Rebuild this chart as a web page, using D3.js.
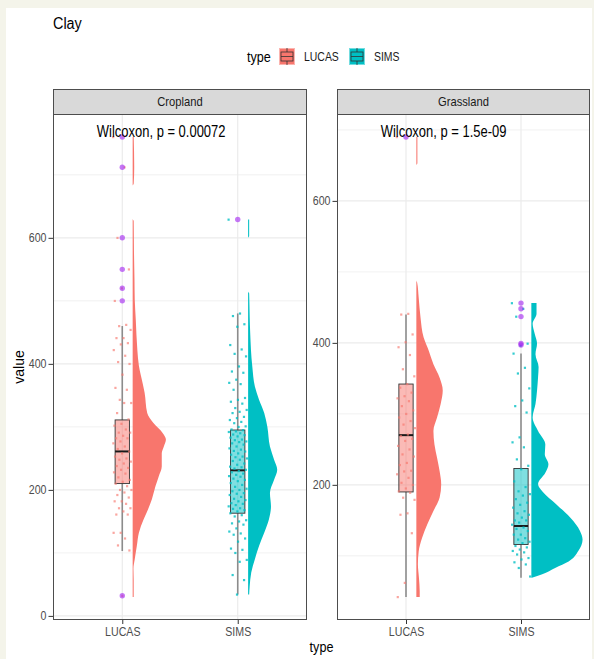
<!DOCTYPE html>
<html>
<head>
<meta charset="utf-8"/>
<script src="https://cdn.jsdelivr.net/npm/d3@7"></script>
<title>Clay</title>
<style>
body { margin: 0; background: #f4f4ea; }
svg { display: block; font-family: "Liberation Sans", Arial, sans-serif; }
</style>
</head>
<body>
<svg width="594" height="659"></svg>
<script>
// categories, facets, labels
var categories = ["LUCAS", "SIMS"];
var facets = ["Cropland", "Grassland"];
var pLabels = ["Wilcoxon, p = 0.00072", "Wilcoxon, p = 1.5e-09"];
var fills = ["#F8766D", "#00BFC4"];
var cropTicks = [0, 200, 400, 600];
var grassTicks = [200, 400, 600];

// box stats: lower whisker, q1, median, q3, upper whisker
var cropLucasBox = [103, 210, 261, 311, 460];
var cropSimsBox = [34, 163, 231, 295, 480];
var grassLucasBox = [42, 190, 270, 342, 440];
var grassSimsBox = [69, 116, 142, 223, 385];

// outliers
var cropLucasOut = [760, 712, 600, 550, 520, 500, 32];
var cropSimsOut = [629];
var grassLucasOut = [690];
var grassSimsOut = [456, 448, 437, 399, 397];

// half violin profiles [value, density]
var cropLucasDens = [[30,0.02],[57,0.02],[75,0.015],[90,0.04],[111,0.08],[132,0.12],[153,0.21],[164,0.27],[185,0.37],[206,0.44],[221,0.50],[237,0.56],[258,0.56],[269,0.60],[280,0.64],[290,0.58],[306,0.40],[322,0.28],[354,0.23],[370,0.19],[397,0.12],[422,0.09],[470,0.06],[502,0.04],[533,0.035],[580,0.025],[627,0.02],[630,0],[683,0],[686,0.02],[712,0.03],[760,0.02]];
var cropSimsDens = [[34,0.02],[47,0.03],[69,0.06],[90,0.13],[111,0.21],[132,0.31],[153,0.40],[174,0.44],[195,0.42],[216,0.50],[232,0.56],[248,0.50],[269,0.42],[300,0.37],[322,0.31],[343,0.21],[364,0.13],[396,0.08],[449,0.04],[475,0.03],[512,0.02],[515,0],[600,0],[603,0.02],[629,0.02]];
var grassLucasDens = [[42,0.065],[50,0.065],[69,0.05],[88,0.03],[106,0.045],[125,0.11],[144,0.21],[163,0.33],[182,0.45],[201,0.48],[219,0.45],[238,0.40],[257,0.35],[276,0.33],[295,0.40],[314,0.47],[333,0.51],[351,0.45],[370,0.33],[389,0.24],[408,0.14],[436,0.08],[464,0.045],[485,0.015],[488,0],[650,0],[653,0.02],[690,0.02]];
var grassSimsDens = [[69,0.01],[74,0.21],[83,0.46],[92,0.72],[107,0.91],[123,0.99],[135,0.94],[154,0.75],[172,0.49],[191,0.21],[201,0.13],[217,0.27],[229,0.33],[243,0.26],[257,0.27],[276,0.13],[295,0.025],[314,0.08],[333,0.11],[352,0.13],[366,0.14],[384,0.08],[399,0.11],[413,0.065],[427,0.025],[441,0.10],[456,0.10]];

// raw observations (jittered)
var cropLucasPts = [760, 712, 600, 550, 520, 500, 462, 460, 454, 441, 441, 433, 431, 422, 413, 403, 400, 383, 362, 359, 343, 338, 338, 322, 312, 305, 302, 296, 291, 291, 286, 282, 282, 277, 274, 269, 265, 261, 258, 253, 250, 248, 245, 242, 238, 235, 232, 228, 226, 220, 216, 213, 210, 206, 200, 200, 196, 192, 188, 182, 182, 178, 171, 171, 166, 161, 161, 132, 132, 123, 112, 104, 32];
var cropSimsPts = [629, 480, 476, 463, 459, 430, 423, 416, 412, 396, 388, 386, 375, 370, 368, 359, 346, 343, 340, 337, 330, 327, 324, 322, 316, 314, 311, 308, 306, 301, 300, 296, 295, 293, 292, 290, 288, 287, 285, 283, 280, 279, 277, 276, 274, 272, 269, 266, 264, 262, 261, 258, 256, 253, 252, 250, 248, 246, 242, 240, 237, 236, 234, 232, 230, 228, 226, 224, 222, 221, 218, 216, 214, 211, 208, 205, 202, 200, 198, 195, 194, 192, 189, 186, 184, 182, 179, 178, 176, 174, 171, 170, 168, 166, 163, 160, 158, 152, 150, 147, 145, 139, 134, 131, 129, 123, 118, 107, 105, 100, 89, 86, 65, 57, 34];
var grassLucasPts = [690, 441, 440, 412, 401, 394, 383, 363, 353, 342, 337, 330, 325, 322, 318, 311, 305, 300, 295, 290, 285, 280, 271, 269, 265, 262, 255, 250, 243, 240, 231, 228, 220, 219, 215, 210, 203, 200, 195, 191, 189, 182, 179, 160, 158, 132, 62, 42];
var grassSimsPts = [456, 448, 437, 399, 396, 385, 365, 357, 336, 319, 311, 302, 267, 260, 253, 236, 227, 222, 205, 197, 191, 187, 185, 180, 175, 172, 168, 163, 160, 158, 154, 150, 150, 147, 144, 140, 138, 135, 130, 130, 125, 123, 120, 118, 114, 112, 109, 107, 105, 102, 97, 95, 91, 88, 83, 71];

var panelData = [
  { ticks: cropTicks, groups: [
    { box: cropLucasBox, out: cropLucasOut, dens: cropLucasDens, pts: cropLucasPts },
    { box: cropSimsBox, out: cropSimsOut, dens: cropSimsDens, pts: cropSimsPts } ] },
  { ticks: grassTicks, groups: [
    { box: grassLucasBox, out: grassLucasOut, dens: grassLucasDens, pts: grassLucasPts },
    { box: grassSimsBox, out: grassSimsOut, dens: grassSimsDens, pts: grassSimsPts } ] }
];

var svg = d3.select("svg"),
    panelX = [[53, 307], [337, 590]],
    pTop = 114, pBottom = 620, stripTop = 89;

function squeeze(sel, f) {
  sel.each(function() {
    var L = this.getComputedTextLength();
    d3.select(this).attr("textLength", L * f).attr("lengthAdjust", "spacingAndGlyphs");
  });
}

svg.append("rect").attr("width", 594).attr("height", 659).attr("fill", "#f4f4ea");
svg.append("rect").attr("x", 6).attr("y", 8).attr("width", 586).attr("height", 651).attr("fill", "#fff");

// title
svg.append("text").attr("x", 53).attr("y", 29).attr("font-size", 16).attr("fill", "#000")
  .text("Clay").call(squeeze, 0.9);

// legend
svg.append("text").attr("x", 247).attr("y", 62).attr("font-size", 14).text("type").call(squeeze, 0.9);
var legX = [279, 349], legLab = [304, 374];
categories.forEach(function(c, i) {
  var lg = svg.append("g").attr("transform", "translate(" + legX[i] + ",48)");
  lg.append("rect").attr("width", 16).attr("height", 17).attr("fill", fills[i]).attr("fill-opacity", 0.55);
  lg.append("rect").attr("x", 1).attr("y", 1).attr("width", 14).attr("height", 15).attr("fill", fills[i]);
  lg.append("line").attr("x1", 8).attr("x2", 8).attr("y1", 0).attr("y2", 17).attr("stroke", "#333").attr("stroke-width", 0.8);
  lg.append("rect").attr("x", 2).attr("y", 4).attr("width", 12).attr("height", 9)
    .attr("fill", fills[i]).attr("stroke", "#333").attr("stroke-width", 0.8);
  lg.append("line").attr("x1", 2).attr("x2", 14).attr("y1", 8.5).attr("y2", 8.5).attr("stroke", "#333").attr("stroke-width", 0.8);
  svg.append("text").attr("x", legLab[i]).attr("y", 61).attr("font-size", 12).attr("fill", "#1a1a1a")
    .text(c).call(squeeze, 0.87);
});

// axis titles
svg.append("text").attr("transform", "translate(24," + ((pTop + pBottom) / 2) + ") rotate(-90)")
  .attr("text-anchor", "middle").attr("font-size", 14).text("value");
svg.append("text").attr("x", (panelX[0][0] + panelX[1][1]) / 2).attr("y", 652)
  .attr("text-anchor", "middle").attr("font-size", 14).text("type").call(squeeze, 0.9);

panelData.forEach(function(pd, f) {
  var x = d3.scalePoint().domain(categories).range(panelX[f]).padding(0.6),
      step = x.step();

  var all = [];
  pd.groups.forEach(function(g) {
    all = all.concat(g.box, g.out, g.pts, g.dens.map(function(d) { return d[0]; }));
  });
  var ext = d3.extent(all), pad = (ext[1] - ext[0]) * 0.05;
  var y = d3.scaleLinear().domain([ext[0] - pad, ext[1] + pad]).range([pBottom, pTop]);

  var g = svg.append("g");
  var x0 = panelX[f][0], x1 = panelX[f][1];

  // grid
  var majors = pd.ticks.slice();
  var minors = [];
  [majors[0] - 100].concat(majors.map(function(t) { return t + 100; })).forEach(function(t) {
    if (t > y.domain()[0] && t < y.domain()[1]) minors.push(t);
  });
  g.selectAll(".minor").data(minors).enter().append("line")
    .attr("x1", x0).attr("x2", x1)
    .attr("y1", function(d) { return y(d); }).attr("y2", function(d) { return y(d); })
    .attr("stroke", "#eeeeee").attr("stroke-width", 0.8);
  g.selectAll(".major").data(majors).enter().append("line")
    .attr("x1", x0).attr("x2", x1)
    .attr("y1", function(d) { return y(d); }).attr("y2", function(d) { return y(d); })
    .attr("stroke", "#ebebeb").attr("stroke-width", 1.2);
  g.selectAll(".vgrid").data(categories).enter().append("line")
    .attr("x1", function(d) { return x(d); }).attr("x2", function(d) { return x(d); })
    .attr("y1", pTop).attr("y2", pBottom)
    .attr("stroke", "#ebebeb").attr("stroke-width", 1.2);

  pd.groups.forEach(function(grp, i) {
    var cx = x(categories[i]), col = fills[i];
    var vBase = cx + 0.09 * step;

    // half violin
    var area = d3.area()
      .y(function(d) { return y(d[0]); })
      .x0(vBase)
      .x1(function(d) { return vBase + d[1] * 0.45 * step; })
      .curve(d3.curveMonotoneY);
    g.append("path").datum(grp.dens).attr("d", area).attr("fill", col);

    // box plot
    var b = grp.box, hw = 0.062 * step;
    g.append("line").attr("x1", cx).attr("x2", cx).attr("y1", y(b[0])).attr("y2", y(b[1]))
      .attr("stroke", "#8c8c8c").attr("stroke-width", 1.6);
    g.append("line").attr("x1", cx).attr("x2", cx).attr("y1", y(b[3])).attr("y2", y(b[4]))
      .attr("stroke", "#8c8c8c").attr("stroke-width", 1.6);
    g.append("rect").attr("x", cx - hw).attr("width", 2 * hw)
      .attr("y", y(b[3])).attr("height", y(b[1]) - y(b[3]))
      .attr("fill", col).attr("fill-opacity", 0.5)
      .attr("stroke", "#333").attr("stroke-width", 0.9);
    g.append("line").attr("x1", cx - hw).attr("x2", cx + hw).attr("y1", y(b[2])).attr("y2", y(b[2]))
      .attr("stroke", "#1a1a1a").attr("stroke-width", 2);

    // jittered points
    g.selectAll(".pt" + i).data(grp.pts).enter().append("rect")
      .attr("x", function(d, k) { return cx + (((k * 0.6180339887) % 1) - 0.5) * 0.16 * step - 1; })
      .attr("y", function(d) { return y(d) - 1; })
      .attr("width", 2.2).attr("height", 2.2)
      .attr("fill", col).attr("fill-opacity", i === 0 ? 0.65 : 0.8);

    // outliers
    g.selectAll(".out" + i).data(grp.out).enter().append("circle")
      .attr("cx", cx).attr("cy", function(d) { return y(d); })
      .attr("r", 2.7).attr("fill", "#A020F0").attr("fill-opacity", 0.6);
  });

  // p-value label
  g.append("text").attr("x", x(categories[0]) - 0.22 * step).attr("y", pTop + 23)
    .attr("font-size", 16).attr("fill", "#000").text(pLabels[f]).call(squeeze, 0.81);

  // panel border and strip
  g.append("rect").attr("x", x0 + 0.5).attr("y", pTop + 0.5).attr("width", x1 - x0 - 1).attr("height", pBottom - pTop - 1)
    .attr("fill", "none").attr("stroke", "#4d4d4d").attr("stroke-width", 1);
  g.append("rect").attr("x", x0 + 0.5).attr("y", stripTop + 0.5).attr("width", x1 - x0 - 1).attr("height", pTop - stripTop)
    .attr("fill", "#d9d9d9").attr("stroke", "#4d4d4d").attr("stroke-width", 1);
  g.append("text").attr("x", (x0 + x1) / 2).attr("y", (stripTop + pTop) / 2 + 4.5)
    .attr("text-anchor", "middle").attr("font-size", 13).attr("fill", "#1a1a1a")
    .text(facets[f]).call(squeeze, 0.86);

  // axes
  var ya = g.append("g").attr("transform", "translate(" + x0 + ",0)")
    .call(d3.axisLeft(y).tickValues(pd.ticks).tickSize(4.5).tickPadding(2));
  var xa = g.append("g").attr("transform", "translate(0," + pBottom + ")")
    .call(d3.axisBottom(x).tickSize(4).tickPadding(3.5));
  [ya, xa].forEach(function(a) {
    a.select(".domain").remove();
    a.selectAll(".tick line").attr("stroke", "#333");
    a.selectAll(".tick text").attr("fill", "#4d4d4d").attr("font-size", 12.5)
      .attr("font-family", "Liberation Sans, Arial, sans-serif").call(squeeze, 0.85);
  });
});
</script>
</body>
</html>
